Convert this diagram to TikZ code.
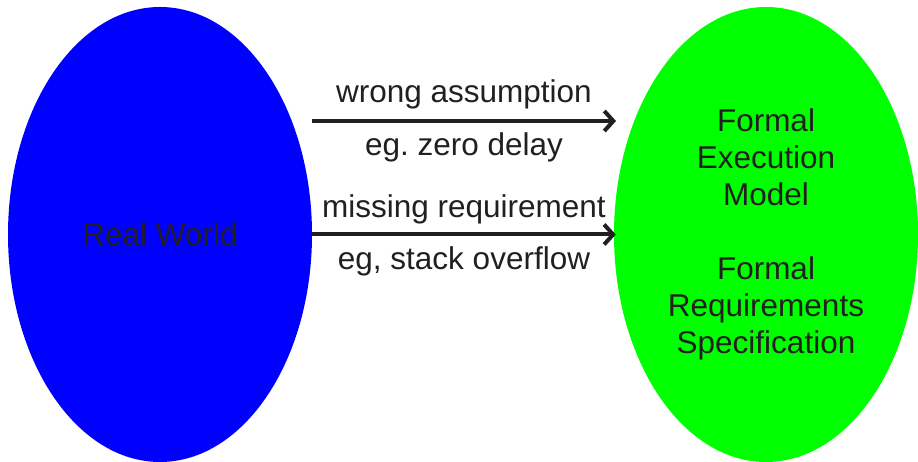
\documentclass[tikz,border=0pt]{standalone}
\usepackage{fontspec}
\setmainfont{Liberation Sans}
\usetikzlibrary{shapes.geometric,arrows.meta,positioning}
\definecolor{ink}{HTML}{231F20}
\begin{document}
\begin{tikzpicture}[x=1pt,y=1pt,
  blob/.style={ellipse,minimum width=304pt,minimum height=455pt,inner sep=0pt,
    align=center,text=ink,font=\fontsize{31.5}{37}\selectfont},
  gap/.style={line width=4pt,draw=ink,-{Straight Barb[length=9pt,width=20pt]}},
  note/.style={anchor=base,text=ink,font=\fontsize{31.5}{37}\selectfont}]
\useasboundingbox (0,0) rectangle (918,462); % page size
\node[blob,fill=blue] (world) at (160,227.5) {Real World};
\node[blob,fill=green] (model) at (766,227.5)
  {Formal\\Execution\\Model\\[37pt]Formal\\Requirements\\Specification};
\coordinate (wa) at (312,341); % upper arrow ends
\coordinate (wb) at (616,341);
\draw[gap] (wa) -- (wb)
  node[note,midway,yshift=18pt] (wrong) {wrong assumption}
  node[note,midway,yshift=-35pt] (delay) {eg.\ zero delay};
\draw[gap] (world.east) -- ([xshift=2pt]model.west)
  node[note,midway,yshift=17pt] (miss) {missing requirement}
  node[note,midway,yshift=-35pt] (stack) {eg, stack overflow};
\end{tikzpicture}
\end{document}
